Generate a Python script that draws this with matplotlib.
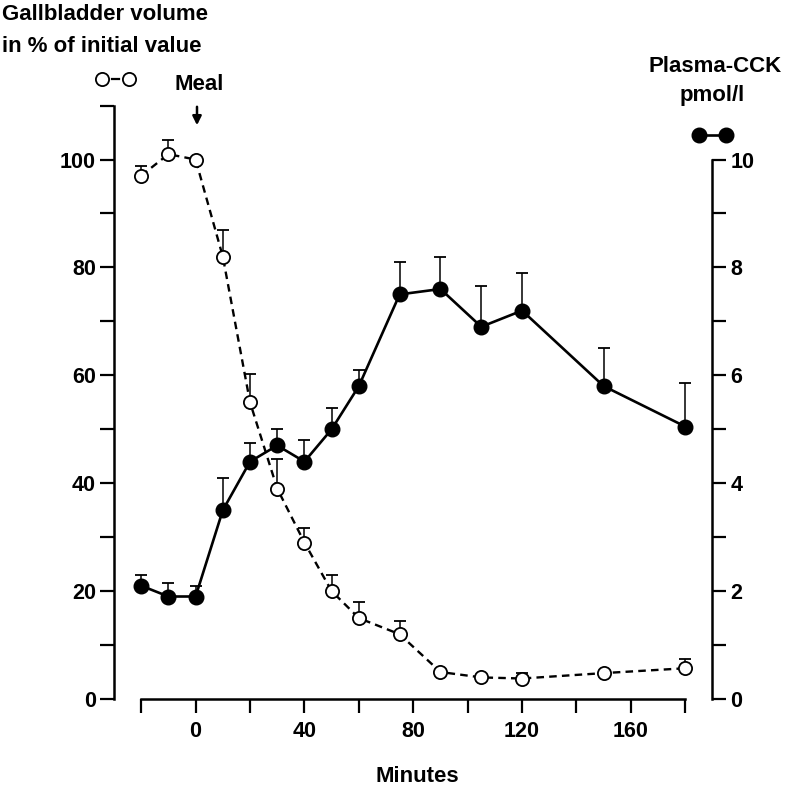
import numpy as np
import matplotlib
matplotlib.use("Agg")
import matplotlib.pyplot as plt
from matplotlib.lines import Line2D

# minutes relative to meal
minutes = [-20, -10, 0, 10, 20, 30, 40, 50, 60, 75, 90, 105, 120, 150, 180]

# gallbladder volume, % of initial value (open circles, left axis)
gb_volume = [97, 101, 100, 82, 55, 39, 29, 20, 15, 12, 5, 4, 3.8, 4.8, 5.7]
gb_sem = [1.8, 2.6, 0, 5, 5.3, 5.5, 2.7, 3, 3, 2.4, 0, 0, 1.0, 0, 1.8]

# plasma CCK, pmol/l (filled circles, right axis)
cck = [2.1, 1.9, 1.9, 3.5, 4.4, 4.7, 4.4, 5.0, 5.8, 7.5, 7.6, 6.9, 7.2, 5.8, 5.05]
cck_sem = [0.2, 0.25, 0.2, 0.6, 0.35, 0.3, 0.4, 0.4, 0.3, 0.6, 0.6, 0.75, 0.7, 0.7, 0.8]

plt.rcParams['font.family'] = ['Liberation Sans', 'DejaVu Sans']
plt.rcParams['font.weight'] = 'bold'

W, H = 793, 794
fig = plt.figure(figsize=(W / 100, H / 100), dpi=100)

def fx(px):
    return px / W

def fy(py):
    return 1 - py / H

ax = fig.add_axes([fx(114), fy(699), (712.5 - 114) / W, (699 - 105.6) / H])
ax2 = ax.twinx()

ax.set_xlim(-30, 190)
ax.set_ylim(0, 110)
ax2.set_ylim(0, 11)

lw_spine = 1.8
for s in ['top', 'right']:
    ax.spines[s].set_visible(False)
for s in ['top', 'left', 'bottom']:
    ax2.spines[s].set_visible(False)
ax.spines['left'].set_bounds(0, 110)
ax.spines['bottom'].set_bounds(-20, 180)
ax2.spines['right'].set_bounds(0, 10)
ax.spines['left'].set_linewidth(lw_spine)
ax.spines['bottom'].set_linewidth(lw_spine)
ax2.spines['right'].set_linewidth(lw_spine)

ax.set_yticks(range(0, 101, 20))
ax.set_yticks(range(10, 111, 20), minor=True)
ax.set_xticks(range(0, 161, 40))
ax.set_xticks(range(-20, 181, 40), minor=True)
ax2.set_yticks(range(0, 11, 2))
ax2.set_yticks(range(1, 10, 2), minor=True)
for a in (ax, ax2):
    a.tick_params(which='both', length=10, width=1.6, labelsize=15.5, pad=3)
ax.tick_params(axis='x', pad=6)

t = np.array(minutes)
gb = np.array(gb_volume)
gbe = np.array(gb_sem)
ck = np.array(cck)
cke = np.array(cck_sem)

# upper-only error bars: stem + cap
m = gbe > 0
ax.vlines(t[m], gb[m], gb[m] + gbe[m], color='black', lw=1.1, zorder=2)
ax.plot(t[m], gb[m] + gbe[m], ls='none', marker='_', ms=8, mew=1.3, color='black', zorder=2)
ax.plot(t, gb, color='black', ls=(0, (3.2, 2.2)), lw=1.7, marker='o', ms=9.5,
        mfc='white', mec='black', mew=1.3, zorder=3)

ax2.vlines(t, ck, ck + cke, color='black', lw=1.1, zorder=2)
ax2.plot(t, ck + cke, ls='none', marker='_', ms=8, mew=1.3, color='black', zorder=2)
ax2.plot(t, ck, color='black', ls='-', lw=1.9, marker='o', ms=10.5,
         mfc='black', mec='black', zorder=3)

# labels and legend keys
fs = 16
fig.text(fx(2), fy(14), 'Gallbladder volume', fontsize=fs, ha='left', va='center')
fig.text(fx(2), fy(46), 'in % of initial value', fontsize=fs, ha='left', va='center')
fig.text(fx(199), fy(84), 'Meal', fontsize=fs, ha='center', va='center')
fig.text(fx(715), fy(66), 'Plasma-CCK', fontsize=fs, ha='center', va='center')
fig.text(fx(712), fy(95), 'pmol/l', fontsize=fs, ha='center', va='center')
fig.text(fx(417), fy(777), 'Minutes', fontsize=fs, ha='center', va='center')

fig.add_artist(Line2D([fx(112), fx(119)], [fy(79), fy(79)], color='black', lw=1.6))
fig.add_artist(Line2D([fx(102), fx(129)], [fy(79), fy(79)], ls='none', marker='o',
                      ms=9.5, mfc='white', mec='black', mew=1.3))
fig.add_artist(Line2D([fx(699), fx(726)], [fy(135), fy(135)], color='black', lw=1.9,
                      marker='o', ms=10.5, mfc='black', mec='black'))

ax.annotate('', xy=(197, H - 128), xytext=(197, H - 104), xycoords='figure pixels',
            textcoords='figure pixels',
            arrowprops=dict(arrowstyle='-|>', lw=1.8, color='black', mutation_scale=13))

fig.savefig('out.png', dpi=100)
